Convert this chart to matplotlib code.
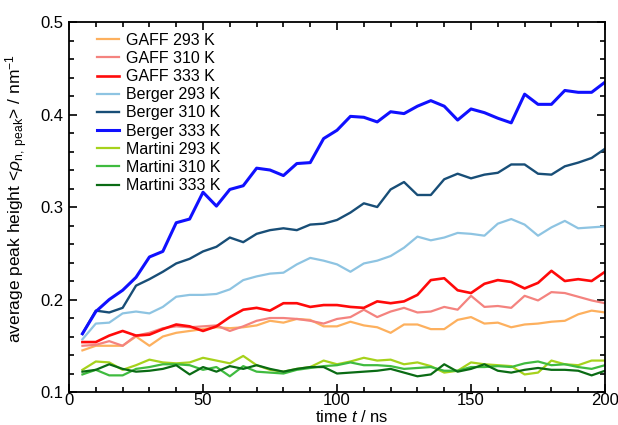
import numpy as np
import matplotlib
matplotlib.use("Agg")
import matplotlib.pyplot as plt
from matplotlib.ticker import MultipleLocator

plt.rcParams["font.family"] = ["Liberation Sans", "DejaVu Sans"]
plt.rcParams["mathtext.fontset"] = "custom"
plt.rcParams["mathtext.rm"] = "Liberation Sans"
plt.rcParams["mathtext.it"] = "Liberation Sans:italic"

time_ns = np.arange(5, 205, 5)

gaff_293 = [0.145, 0.150, 0.150, 0.150, 0.160, 0.150, 0.160, 0.164, 0.166, 0.168,
            0.170, 0.169, 0.170, 0.172, 0.177, 0.175, 0.179, 0.178, 0.171, 0.171,
            0.176, 0.172, 0.170, 0.164, 0.173, 0.173, 0.168, 0.168, 0.178, 0.181,
            0.174, 0.175, 0.170, 0.173, 0.174, 0.176, 0.177, 0.184, 0.188, 0.186]
gaff_310 = [0.150, 0.151, 0.155, 0.150, 0.161, 0.164, 0.169, 0.171, 0.170, 0.171,
            0.172, 0.166, 0.171, 0.177, 0.180, 0.180, 0.179, 0.177, 0.174, 0.179,
            0.181, 0.189, 0.181, 0.187, 0.191, 0.186, 0.187, 0.192, 0.189, 0.204,
            0.192, 0.193, 0.191, 0.204, 0.199, 0.208, 0.207, 0.203, 0.199, 0.196]
gaff_333 = [0.154, 0.154, 0.161, 0.166, 0.161, 0.162, 0.168, 0.173, 0.171, 0.166,
            0.171, 0.181, 0.189, 0.191, 0.188, 0.196, 0.196, 0.192, 0.194, 0.194,
            0.192, 0.191, 0.198, 0.196, 0.198, 0.205, 0.221, 0.223, 0.210, 0.207,
            0.217, 0.221, 0.219, 0.212, 0.218, 0.231, 0.220, 0.222, 0.220, 0.230]
berger_293 = [0.157, 0.174, 0.175, 0.185, 0.187, 0.185, 0.192, 0.203, 0.205, 0.205,
              0.206, 0.211, 0.221, 0.225, 0.228, 0.229, 0.238, 0.245, 0.242, 0.238,
              0.230, 0.239, 0.242, 0.247, 0.256, 0.268, 0.264, 0.267, 0.272, 0.271,
              0.269, 0.282, 0.287, 0.281, 0.269, 0.278, 0.285, 0.277, 0.278, 0.279]
berger_310 = [0.163, 0.188, 0.186, 0.191, 0.215, 0.222, 0.230, 0.239, 0.244, 0.252,
              0.257, 0.267, 0.262, 0.271, 0.275, 0.277, 0.275, 0.281, 0.282, 0.286,
              0.294, 0.304, 0.300, 0.319, 0.327, 0.313, 0.313, 0.330, 0.336, 0.331,
              0.335, 0.337, 0.346, 0.346, 0.336, 0.335, 0.344, 0.348, 0.353, 0.363]
berger_333 = [0.163, 0.187, 0.200, 0.210, 0.224, 0.246, 0.252, 0.283, 0.287, 0.316,
              0.301, 0.319, 0.323, 0.342, 0.340, 0.334, 0.347, 0.348, 0.374, 0.383,
              0.398, 0.397, 0.392, 0.403, 0.401, 0.409, 0.415, 0.409, 0.394, 0.406,
              0.402, 0.396, 0.391, 0.422, 0.411, 0.411, 0.426, 0.424, 0.424, 0.435]
martini_293 = [0.124, 0.133, 0.132, 0.124, 0.129, 0.135, 0.132, 0.131, 0.132, 0.137,
               0.134, 0.131, 0.139, 0.129, 0.124, 0.122, 0.125, 0.127, 0.134, 0.130,
               0.133, 0.137, 0.134, 0.135, 0.130, 0.132, 0.128, 0.121, 0.123, 0.132,
               0.130, 0.129, 0.128, 0.119, 0.121, 0.134, 0.130, 0.129, 0.134, 0.134]
martini_310 = [0.119, 0.124, 0.118, 0.118, 0.125, 0.127, 0.130, 0.130, 0.129, 0.124,
               0.127, 0.117, 0.128, 0.122, 0.121, 0.120, 0.124, 0.126, 0.128, 0.129,
               0.132, 0.129, 0.129, 0.128, 0.125, 0.126, 0.127, 0.123, 0.123, 0.127,
               0.127, 0.128, 0.127, 0.131, 0.133, 0.129, 0.130, 0.127, 0.125, 0.129]
martini_333 = [0.122, 0.124, 0.130, 0.125, 0.122, 0.123, 0.125, 0.129, 0.119, 0.127,
               0.122, 0.128, 0.125, 0.129, 0.125, 0.122, 0.125, 0.127, 0.127, 0.120,
               0.121, 0.122, 0.123, 0.125, 0.121, 0.117, 0.119, 0.130, 0.122, 0.125,
               0.130, 0.123, 0.121, 0.124, 0.126, 0.124, 0.124, 0.123, 0.118, 0.123]

series = [
    ("GAFF 293 K", gaff_293, "#fdb05e", 1.6),
    ("GAFF 310 K", gaff_310, "#f4837f", 1.6),
    ("GAFF 333 K", gaff_333, "#ff0a0a", 1.9),
    ("Berger 293 K", berger_293, "#8ec4e2", 1.6),
    ("Berger 310 K", berger_310, "#184e77", 1.7),
    ("Berger 333 K", berger_333, "#1010ff", 2.2),
    ("Martini 293 K", martini_293, "#a6d21c", 1.6),
    ("Martini 310 K", martini_310, "#3fbb3f", 1.6),
    ("Martini 333 K", martini_333, "#0a6b14", 1.6),
]

fig = plt.figure(figsize=(6.18, 4.25), dpi=100)
ax = fig.add_axes([0.1117, 0.0776, 0.8673, 0.8706])

for label, values, color, lw in series:
    ax.plot(time_ns, values, color=color, lw=lw, label=label)

ax.set_xlim(0, 200)
ax.set_ylim(0.1, 0.5)
ax.xaxis.set_major_locator(MultipleLocator(50))
ax.xaxis.set_minor_locator(MultipleLocator(10))
ax.yaxis.set_major_locator(MultipleLocator(0.1))
ax.yaxis.set_minor_locator(MultipleLocator(0.02))
ax.tick_params(which="both", direction="in", top=True, right=True,
               labelsize=12, width=1.2)
ax.tick_params(axis="x", pad=0.5)
ax.tick_params(axis="y", pad=4)
ax.tick_params(which="major", length=6)
ax.tick_params(which="minor", length=3.5)
for spine in ax.spines.values():
    spine.set_linewidth(1.3)

ax.set_xlabel(r"time $t$ / ns", fontsize=12)
ax.xaxis.set_label_coords(0.528, -0.045)
ax.set_ylabel(r"average peak height <$\rho_{\mathrm{n,\ peak}}$> / nm$^{-1}$",
              fontsize=12.5)
ax.yaxis.set_label_coords(-0.072, 0.522)

ax.legend(loc="upper left", bbox_to_anchor=(0.035, 0.997), frameon=False,
          fontsize=11.5, handlelength=1.35, handletextpad=0.45,
          labelspacing=0.2, borderaxespad=0.2)

fig.savefig("out.png", dpi=100)
